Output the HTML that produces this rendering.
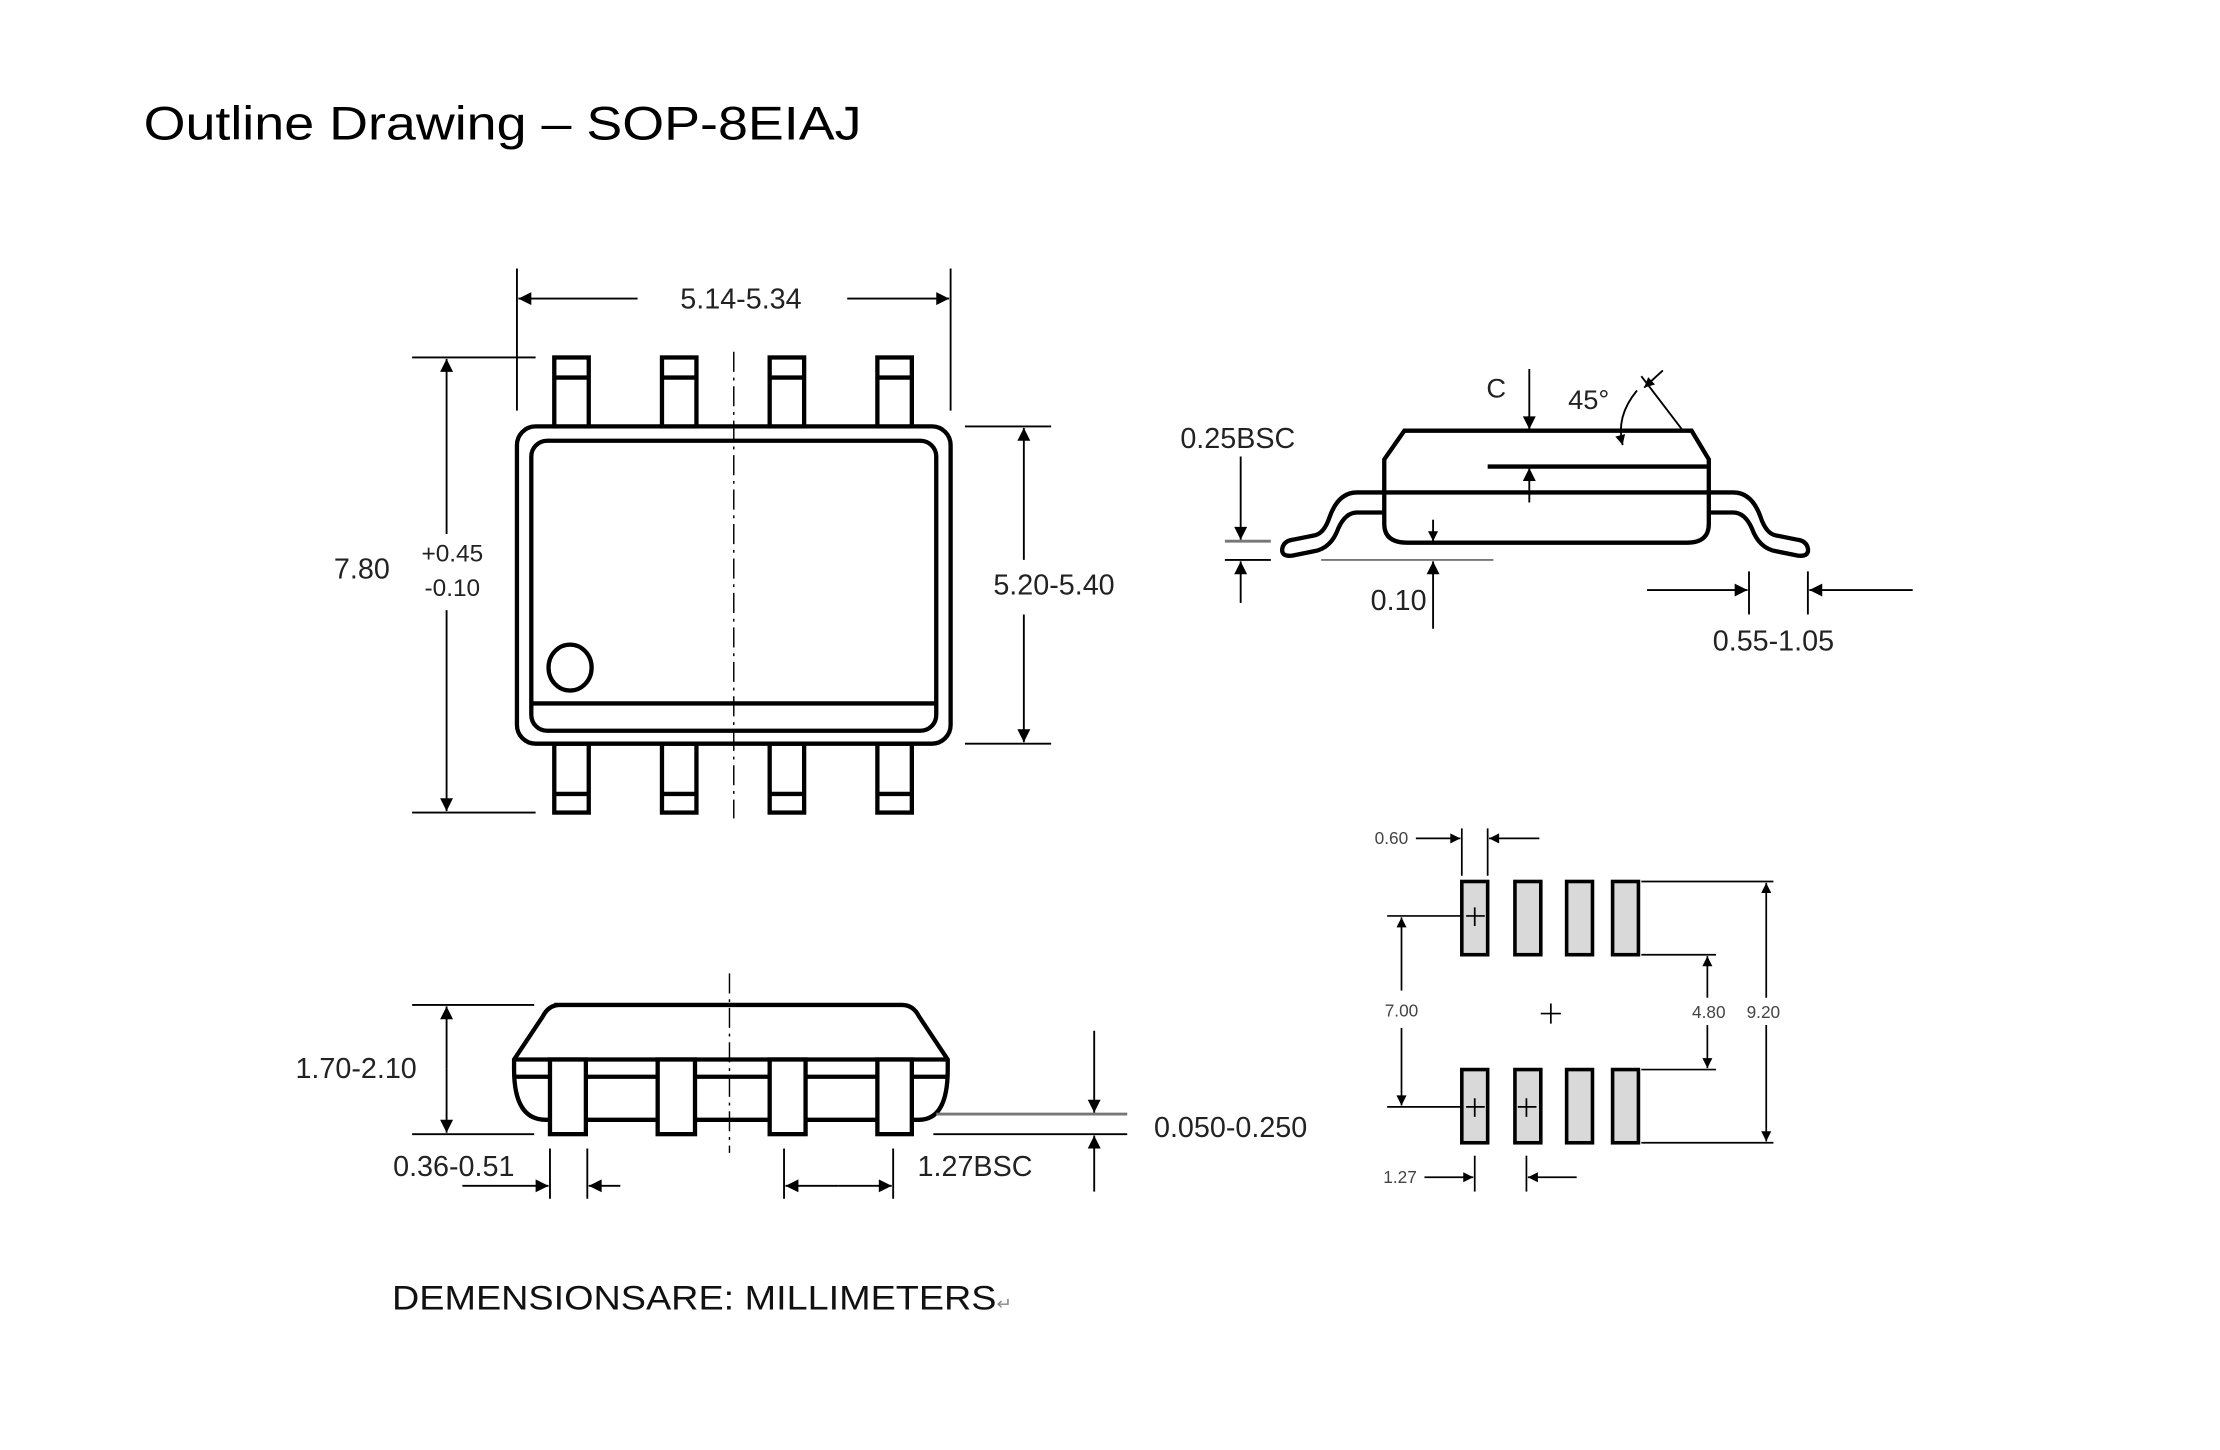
<!DOCTYPE html>
<html><head><meta charset="utf-8"><style>html,body{margin:0;padding:0;background:#fff}svg{display:block}</style></head>
<body>
<svg width="2220" height="1450" viewBox="0 0 1546 1010" preserveAspectRatio="none" xmlns="http://www.w3.org/2000/svg" font-family="Liberation Sans, Arial, sans-serif">
<defs>
<marker id="a" viewBox="0 0 10 10" refX="10" refY="5" markerWidth="11" markerHeight="9" markerUnits="userSpaceOnUse" orient="auto-start-reverse"><path d="M0,0 L10,5 L0,10 z" fill="#000"/></marker>
<marker id="s" viewBox="0 0 10 10" refX="10" refY="5" markerWidth="8" markerHeight="7" markerUnits="userSpaceOnUse" orient="auto-start-reverse"><path d="M0,0 L10,5 L0,10 z" fill="#000"/></marker>
</defs>
<rect width="1546" height="1010" fill="#fff"/>
<text x="100" y="97" font-size="33" textLength="500" lengthAdjust="spacingAndGlyphs">Outline Drawing – SOP-8EIAJ</text>

<!-- TOP VIEW -->
<g stroke="#000" fill="none">
<g stroke-width="3">
<rect x="360" y="297" width="302" height="221" rx="13"/>
<rect x="370" y="307" width="282" height="202" rx="11"/>
<line x1="370" y1="490" x2="652" y2="490"/>
<ellipse cx="397" cy="465" rx="15" ry="16"/>
<rect x="386" y="249" width="24" height="48" fill="#fff"/><line x1="386" y1="263" x2="410" y2="263"/>
<rect x="461" y="249" width="24" height="48" fill="#fff"/><line x1="461" y1="263" x2="485" y2="263"/>
<rect x="536" y="249" width="24" height="48" fill="#fff"/><line x1="536" y1="263" x2="560" y2="263"/>
<rect x="611" y="249" width="24" height="48" fill="#fff"/><line x1="611" y1="263" x2="635" y2="263"/>
<rect x="386" y="518" width="24" height="48"/><line x1="386" y1="553" x2="410" y2="553"/>
<rect x="461" y="518" width="24" height="48"/><line x1="461" y1="553" x2="485" y2="553"/>
<rect x="536" y="518" width="24" height="48"/><line x1="536" y1="553" x2="560" y2="553"/>
<rect x="611" y="518" width="24" height="48"/><line x1="611" y1="553" x2="635" y2="553"/>
</g>
<line x1="511" y1="245" x2="511" y2="570" stroke-width="1" stroke-dasharray="14,4,2,4"/>
<g stroke-width="1.3">
<line x1="360" y1="187" x2="360" y2="286"/><line x1="662" y1="187" x2="662" y2="286"/>
<line x1="444" y1="208" x2="361" y2="208" marker-end="url(#a)"/>
<line x1="590" y1="208" x2="661" y2="208" marker-end="url(#a)"/>
<line x1="287" y1="249" x2="373" y2="249"/><line x1="287" y1="566" x2="373" y2="566"/>
<line x1="311" y1="372" x2="311" y2="250" marker-end="url(#a)"/>
<line x1="311" y1="425" x2="311" y2="565" marker-end="url(#a)"/>
<line x1="672" y1="297" x2="732" y2="297"/><line x1="672" y1="518" x2="732" y2="518"/>
<line x1="713" y1="390" x2="713" y2="298" marker-end="url(#a)"/>
<line x1="713" y1="428" x2="713" y2="517" marker-end="url(#a)"/>
</g>
</g>
<g fill="#222">
<text x="516" y="215" font-size="20" text-anchor="middle">5.14-5.34</text>
<text x="252" y="403" font-size="20" text-anchor="middle">7.80</text>
<text x="315" y="391" font-size="17" text-anchor="middle">+0.45</text>
<text x="315" y="415" font-size="17" text-anchor="middle">-0.10</text>
<text x="734" y="414" font-size="20" text-anchor="middle">5.20-5.40</text>
</g>

<!-- SIDE VIEW RIGHT -->
<g stroke="#000" fill="none">
<g stroke-width="3">
<path d="M963,357 L945,357 Q937,357 932,368 Q927,382 915,384 L900,387 Q892,388 893,382 Q894,377 900,376 L915,373 Q922,372 926,360 Q932,343 945,343 L1207,343 Q1220,343 1226,360 Q1230,372 1237,373 L1252,376 Q1258,377 1259,382 Q1260,388 1252,387 L1237,384 Q1225,382 1220,368 Q1215,357 1207,357 L1190,357"/>
<path d="M978,300 L1178,300 L1190,320 L1190,365 Q1190,378 1175,378 L980,378 Q964,378 964,365 L964,320 Z" fill="none"/>
<line x1="1036" y1="325" x2="1190" y2="325"/>
</g>
<g stroke-width="1.3">
<line x1="1065" y1="257" x2="1065" y2="299" marker-end="url(#a)"/>
<line x1="1065" y1="350" x2="1065" y2="326" marker-end="url(#a)"/>
<line x1="1172" y1="300" x2="1143" y2="262"/>
<line x1="1158" y1="258" x2="1145" y2="270" marker-end="url(#s)"/>
<path d="M1140,272 Q1125,290 1130,310" marker-end="url(#s)"/>
<line x1="998" y1="362" x2="998" y2="377" marker-end="url(#s)"/>
<line x1="920" y1="390" x2="1040" y2="390" stroke="#777"/>
<line x1="998" y1="438" x2="998" y2="391" marker-end="url(#a)"/>
<line x1="864" y1="318" x2="864" y2="376" marker-end="url(#a)"/>
<line x1="853" y1="377" x2="885" y2="377" stroke="#777" stroke-width="2"/>
<line x1="853" y1="390" x2="885" y2="390"/>
<line x1="864" y1="420" x2="864" y2="391" marker-end="url(#a)"/>
<line x1="1218" y1="398" x2="1218" y2="428"/><line x1="1259" y1="398" x2="1259" y2="428"/>
<line x1="1147" y1="411" x2="1217" y2="411" marker-end="url(#a)"/>
<line x1="1332" y1="411" x2="1260" y2="411" marker-end="url(#a)"/>
</g>
</g>
<g fill="#222">
<text x="1042" y="277" font-size="19" text-anchor="middle">C</text>
<text x="1092" y="285" font-size="19">45°</text>
<text x="862" y="312" font-size="20" text-anchor="middle">0.25BSC</text>
<text x="974" y="425" font-size="20" text-anchor="middle">0.10</text>
<text x="1235" y="453" font-size="20" text-anchor="middle">0.55-1.05</text>
</g>

<!-- SIDE VIEW BOTTOM-LEFT -->
<g stroke="#000" fill="none">
<g stroke-width="3">
<path d="M386,700 L628,700 Q636,700 640,708 L660,738 L660,745 Q660,780 640,780 L380,780 Q358,780 358,745 L358,738 L378,708 Q382,700 390,700 Z"/>
<line x1="358" y1="738" x2="660" y2="738"/>
<line x1="358" y1="750" x2="660" y2="750"/>
<rect x="383" y="738" width="25" height="52" fill="#fff"/>
<rect x="458" y="738" width="26" height="52" fill="#fff"/>
<rect x="536" y="738" width="25" height="52" fill="#fff"/>
<rect x="611" y="738" width="24" height="52" fill="#fff"/>
</g>
<line x1="508" y1="678" x2="508" y2="803" stroke-width="1" stroke-dasharray="14,4,2,4"/>
<g stroke-width="1.3">
<line x1="287" y1="700" x2="372" y2="700"/><line x1="287" y1="790" x2="372" y2="790"/>
<line x1="311" y1="744" x2="311" y2="701" marker-end="url(#a)"/>
<line x1="311" y1="744" x2="311" y2="789" marker-end="url(#a)"/>
<line x1="383" y1="800" x2="383" y2="835"/><line x1="409" y1="800" x2="409" y2="835"/>
<line x1="322" y1="826" x2="382" y2="826" marker-end="url(#a)"/>
<line x1="432" y1="826" x2="410" y2="826" marker-end="url(#a)"/>
<line x1="546" y1="800" x2="546" y2="835"/><line x1="622" y1="800" x2="622" y2="835"/>
<line x1="584" y1="826" x2="547" y2="826" marker-end="url(#a)"/>
<line x1="584" y1="826" x2="621" y2="826" marker-end="url(#a)"/>
<line x1="652" y1="776" x2="785" y2="776" stroke="#777" stroke-width="2"/>
<line x1="650" y1="790" x2="785" y2="790"/>
<line x1="762" y1="718" x2="762" y2="775" marker-end="url(#a)"/>
<line x1="762" y1="830" x2="762" y2="791" marker-end="url(#a)"/>
</g>
</g>
<g fill="#222">
<text x="248" y="751" font-size="20" text-anchor="middle">1.70-2.10</text>
<text x="316" y="819" font-size="20" text-anchor="middle">0.36-0.51</text>
<text x="679" y="819" font-size="20" text-anchor="middle">1.27BSC</text>
<text x="857" y="792" font-size="20" text-anchor="middle">0.050-0.250</text>
<text x="273" y="912" font-size="24" textLength="432" lengthAdjust="spacingAndGlyphs" fill="#111">DEMENSIONSARE: MILLIMETERS<tspan font-size="12" fill="#888">↵</tspan></text>
</g>

<!-- LAND PATTERN -->
<g stroke="#000">
<g stroke-width="2.5" fill="#d9d9d9">
<rect x="1018" y="614" width="18" height="51"/><rect x="1055" y="614" width="18" height="51"/>
<rect x="1091" y="614" width="18" height="51"/><rect x="1123" y="614" width="18" height="51"/>
<rect x="1018" y="745" width="18" height="51"/><rect x="1055" y="745" width="18" height="51"/>
<rect x="1091" y="745" width="18" height="51"/><rect x="1123" y="745" width="18" height="51"/>
</g>
<g stroke-width="1.2" fill="none">
<path d="M1021,638 h13 M1027,632 v13"/>
<path d="M1021,771 h13 M1027,765 v13"/>
<path d="M1057,771 h13 M1063,765 v13"/>
<path d="M1073,706 h14 M1080,699 v14"/>
<line x1="966" y1="638" x2="1018" y2="638"/><line x1="966" y1="771" x2="1018" y2="771"/>
<line x1="976" y1="690" x2="976" y2="639" marker-end="url(#s)"/>
<line x1="976" y1="716" x2="976" y2="770" marker-end="url(#s)"/>
<line x1="1143" y1="614" x2="1235" y2="614"/><line x1="1143" y1="796" x2="1235" y2="796"/>
<line x1="1143" y1="665" x2="1195" y2="665"/><line x1="1143" y1="745" x2="1195" y2="745"/>
<line x1="1230" y1="695" x2="1230" y2="615" marker-end="url(#s)"/>
<line x1="1230" y1="714" x2="1230" y2="795" marker-end="url(#s)"/>
<line x1="1189" y1="695" x2="1189" y2="666" marker-end="url(#s)"/>
<line x1="1189" y1="714" x2="1189" y2="744" marker-end="url(#s)"/>
<line x1="1018" y1="577" x2="1018" y2="610"/><line x1="1036" y1="577" x2="1036" y2="610"/>
<line x1="986" y1="584" x2="1017" y2="584" marker-end="url(#s)"/>
<line x1="1072" y1="584" x2="1037" y2="584" marker-end="url(#s)"/>
<line x1="1027" y1="805" x2="1027" y2="830"/><line x1="1063" y1="805" x2="1063" y2="830"/>
<line x1="992" y1="820" x2="1026" y2="820" marker-end="url(#s)"/>
<line x1="1098" y1="820" x2="1064" y2="820" marker-end="url(#s)"/>
</g>
</g>
<g fill="#444" font-size="12">
<text x="969" y="588" text-anchor="middle">0.60</text>
<text x="976" y="708" text-anchor="middle">7.00</text>
<text x="1190" y="709" text-anchor="middle">4.80</text>
<text x="1228" y="709" text-anchor="middle">9.20</text>
<text x="975" y="824" text-anchor="middle">1.27</text>
</g>
</svg>
</body></html>
